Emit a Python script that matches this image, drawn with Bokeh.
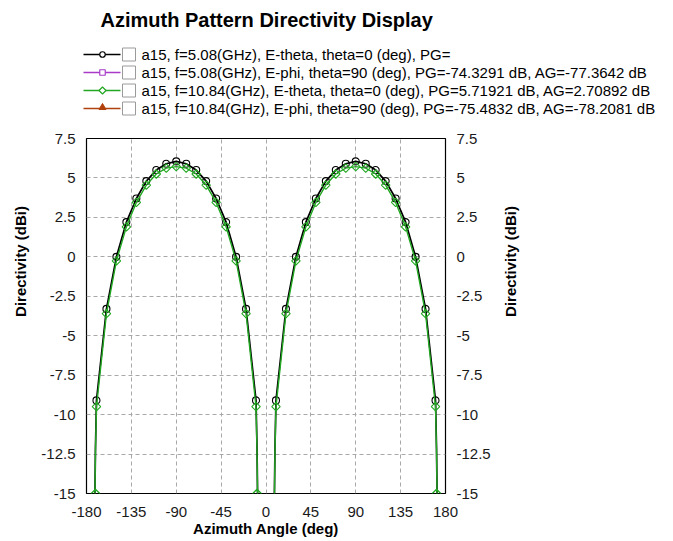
import math
from bokeh.plotting import figure
from bokeh.models import Range1d, LinearAxis, FixedTicker
from bokeh.layouts import column, row
from bokeh.embed import file_html
from bokeh.resources import INLINE
from bokeh.core.properties import value

# ---------------- data ----------------
TITLE = "Azimuth Pattern Directivity Display"
X_LABEL = "Azimuth Angle (deg)"
Y_LABEL = "Directivity (dBi)"

legend_labels = [
    "a15, f=5.08(GHz), E-theta, theta=0 (deg), PG=",
    "a15, f=5.08(GHz), E-phi, theta=90 (deg), PG=-74.3291 dB, AG=-77.3642 dB",
    "a15, f=10.84(GHz), E-theta, theta=0 (deg), PG=5.71921 dB, AG=2.70892 dB",
    "a15, f=10.84(GHz), E-phi, theta=90 (deg), PG=-75.4832 dB, AG=-78.2081 dB",
]
legend_colors = ["#000000", "#a83cc8", "#22a822", "#b0410c"]
legend_markers = ["circle", "square", "diamond", "triangle"]

azimuth_deg = [-180, -171, -170, -160, -150, -140, -130, -120, -110, -100, -90,
               -80, -70, -60, -50, -40, -30, -20, -10, -9, 0,
               9, 10, 20, 30, 40, 50, 60, 70, 80, 90,
               100, 110, 120, 130, 140, 150, 160, 170, 171, 180]
# f=5.08 GHz, E-theta (dBi); nulls at 0/180 lie far below the chart floor
etheta_508 = [-60, -12.1, -9.1, -3.3, 0.0, 2.2, 3.7, 4.8, 5.5, 5.9, 6.05,
              5.9, 5.5, 4.8, 3.7, 2.2, 0.0, -3.3, -9.1, -12.1, -60,
              -12.1, -9.1, -3.3, 0.0, 2.2, 3.7, 4.8, 5.5, 5.9, 6.05,
              5.9, 5.5, 4.8, 3.7, 2.2, 0.0, -3.3, -9.1, -12.1, -60]
# f=10.84 GHz, E-theta (dBi)
etheta_1084 = [-60, -12.3, -9.5, -3.6, -0.25, 1.9, 3.45, 4.55, 5.25, 5.62, 5.72,
               5.62, 5.25, 4.55, 3.45, 1.9, -0.25, -3.6, -9.5, -12.3, -60,
               -12.3, -9.5, -3.6, -0.25, 1.9, 3.45, 4.55, 5.25, 5.62, 5.72,
               5.62, 5.25, 4.55, 3.45, 1.9, -0.25, -3.6, -9.5, -12.3, -60]

marker_deg = [-170, -160, -150, -140, -130, -120, -110, -100, -90, -80, -70,
              -60, -50, -40, -30, -20, -10,
              10, 20, 30, 40, 50, 60, 70, 80, 90, 100, 110, 120, 130, 140,
              150, 160, 170]
floor_marker_deg = [-171, -9, 171]

x_ticks = [-180, -135, -90, -45, 0, 45, 90, 135, 180]
x_tick_labels = ["-180", "-135", "-90", "-45", "0", "45", "90", "135", "180"]
y_ticks = [7.5, 5, 2.5, 0, -2.5, -5, -7.5, -10, -12.5, -15]
y_tick_labels = ["7.5", "5", "2.5", "0", "-2.5", "-5", "-7.5", "-10", "-12.5", "-15"]

# ---------------- layout constants ----------------
FONT = "Liberation Sans"
W = 657
HEAD_H = 126
MAIN_H = 414
LEFT_W = 38
RIGHT_W = 40
MAIN_W = 45 + 362 + 52


def blank_fig(w, h):
    f = figure(width=w, height=h, x_range=Range1d(0, w), y_range=Range1d(h, 0),
               toolbar_location=None, output_backend="svg",
               x_axis_location=None, y_axis_location=None,
               min_border=0, outline_line_color=None)
    f.grid.visible = False
    f.frame_align = False
    return f


# ---------------- header (title + legend) ----------------
head = blank_fig(W, HEAD_H)
head.text(x=[100], y=[19], text=[TITLE], text_font=value(FONT), text_font_size="20px",
          text_font_style="bold", text_baseline="middle", text_align="left", text_color="#000000")

row_y = [54 + 18 * i for i in range(len(legend_labels))]
for lab, col, mk, yy in zip(legend_labels, legend_colors, legend_markers, row_y):
    head.segment(x0=[83], y0=[yy], x1=[120], y1=[yy], line_color=col, line_width=1.5)
    if mk == "diamond":
        head.scatter([102], [yy], marker="square", angle=math.pi / 4, size=5,
                     line_color=col, fill_color="white", line_width=1.2)
    elif mk == "triangle":
        head.scatter([102], [yy - 1], marker="triangle", size=7,
                     line_color=col, fill_color=col, line_width=1)
    else:
        head.scatter([102], [yy], marker=mk, size=5.5,
                     line_color=col, fill_color="white", line_width=1.2)
    head.rect(x=[128.5], y=[yy], width=13, height=13, line_color="#9a9a9a",
              fill_color="white", line_width=1)
    head.text(x=[141], y=[yy], text=[lab], text_font=value(FONT), text_font_size="15px",
              text_baseline="middle", text_align="left", text_color="#000000")

# ---------------- side label strips ----------------
left_lab = blank_fig(LEFT_W, MAIN_H)
left_lab.text(x=[20], y=[135], text=[Y_LABEL], angle=math.pi / 2, text_font=value(FONT),
              text_font_size="15px", text_font_style="bold", text_align="center",
              text_baseline="middle", text_color="#000000")
right_lab = blank_fig(RIGHT_W, MAIN_H)
right_lab.text(x=[13], y=[135], text=[Y_LABEL], angle=math.pi / 2, text_font=value(FONT),
               text_font_size="15px", text_font_style="bold", text_align="center",
               text_baseline="middle", text_color="#000000")

# ---------------- main chart ----------------
p = figure(width=MAIN_W, height=MAIN_H, x_range=Range1d(-180, 180), y_range=Range1d(-15, 7.5),
           toolbar_location=None, output_backend="svg",
           min_border_left=45, min_border_right=52, min_border_top=12, min_border_bottom=47)
p.frame_align = False
p.outline_line_color = "#000000"
p.outline_line_width = 1.2
p.background_fill_color = "white"
p.border_fill_color = "white"

for g, tk in ((p.xgrid, x_ticks), (p.ygrid, y_ticks)):
    g.ticker = FixedTicker(ticks=tk)
    g.grid_line_color = "#a8a8a8"
    g.grid_line_dash = "4 3"
    g.grid_line_width = 1

right_axis = LinearAxis()
p.add_layout(right_axis, "right")


def style_axis(ax, ticks, labels):
    ax.ticker = FixedTicker(ticks=ticks)
    ax.major_label_overrides = {t: l for t, l in zip(ticks, labels)}
    ax.major_tick_in = 0
    ax.major_tick_out = 0
    ax.minor_tick_in = 0
    ax.minor_tick_out = 0
    ax.axis_line_color = None
    ax.major_label_text_font = FONT
    ax.major_label_text_font_size = "15px"
    ax.major_label_text_color = "#1a1a1a"


style_axis(p.xaxis[0], x_ticks, x_tick_labels)
style_axis(p.yaxis[0], y_ticks, y_tick_labels)
style_axis(right_axis, y_ticks, y_tick_labels)
p.xaxis[0].major_label_standoff = 13
p.yaxis[0].major_label_standoff = 11
right_axis.major_label_standoff = 11

p.xaxis[0].axis_label = X_LABEL
p.xaxis[0].axis_label_text_font = FONT
p.xaxis[0].axis_label_text_font_size = "15px"
p.xaxis[0].axis_label_text_font_style = "bold"
p.xaxis[0].axis_label_text_color = "#000000"
p.xaxis[0].axis_label_standoff = 0

black = "#000000"
green = "#22a822"
lookup_508 = dict(zip(azimuth_deg, etheta_508))
lookup_1084 = dict(zip(azimuth_deg, etheta_1084))

p.line(azimuth_deg, etheta_508, line_color=black, line_width=1.7)
p.scatter(marker_deg, [lookup_508[a] for a in marker_deg], marker="circle", size=7,
          line_color=black, fill_color=None, line_width=1.1)

p.line(azimuth_deg, etheta_1084, line_color=green, line_width=1.4)
p.scatter(marker_deg, [lookup_1084[a] for a in marker_deg], marker="square",
          angle=math.pi / 4, size=6, line_color=green, fill_color=None, line_width=1.1)
y_floor = p.y_range.start
p.scatter(floor_marker_deg, [y_floor] * len(floor_marker_deg), marker="square",
          angle=math.pi / 4, size=6, line_color=green, fill_color=None, line_width=1.3)

layout = column(head, row(left_lab, p, right_lab))
open("out.html", "w").write(file_html(layout, INLINE))
